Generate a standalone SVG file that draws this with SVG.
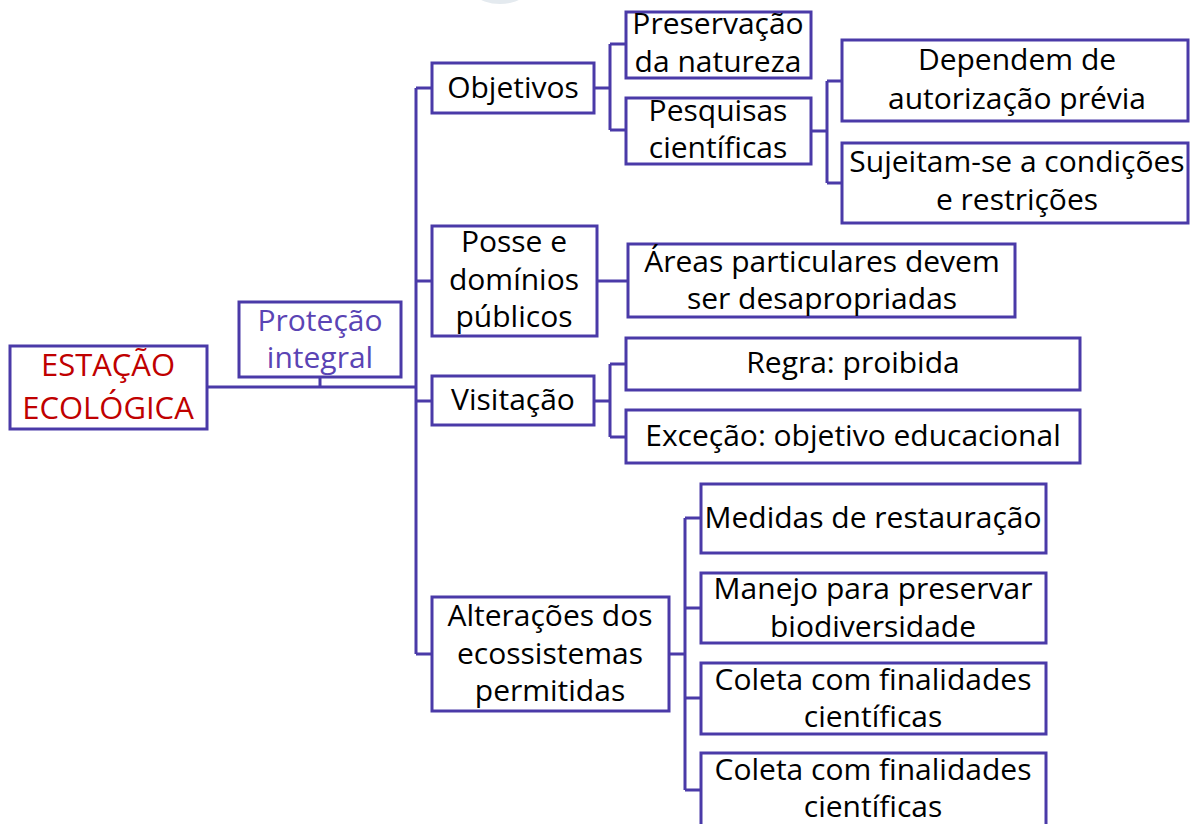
<svg xmlns="http://www.w3.org/2000/svg" width="1190" height="824" viewBox="0 0 1190 824">
<style>
.box{fill:#fff;stroke:#4a3aa8;stroke-width:3}
.ln{fill:none;stroke:#4a3aa8;stroke-width:3}
text{font-family:"Open Sans","Noto Sans",sans-serif;font-size:30px;fill:#000;text-anchor:middle}
.red{fill:#c00000;font-size:31px}
.pur{fill:#5a44b4}
</style>
<rect width="1190" height="824" fill="#fff"/>
<ellipse cx="500" cy="-30" rx="40" ry="34" fill="#e4eaef"/>
<g id="connectors">
<path class="ln" d="M207 387H416M320 377V387M416 88V654M416 88H432M416 281H432M416 401H432M416 654H432"/>
<path class="ln" d="M594 88H610M610 44V130M610 44H626M610 130H626"/>
<path class="ln" d="M811 131H827M827 81V183M827 81H842M827 183H842"/>
<path class="ln" d="M597 281H628"/>
<path class="ln" d="M594 401H610M610 364V437M610 364H626M610 437H626"/>
<path class="ln" d="M669 654H685M685 518V790M685 518H701M685 608H701M685 698H701M685 790H701"/>
</g>
<g id="estacao"><rect class="box" x="10" y="346" width="197" height="83"/><text class="red" x="108" y="376">ESTAÇÃO</text><text class="red" x="108" y="419">ECOLÓGICA</text></g>
<g id="protecao"><rect class="box" x="239" y="302" width="162" height="75"/><text class="pur" x="320" y="331">Proteção</text><text class="pur" x="320" y="368">integral</text></g>
<g id="objetivos"><rect class="box" x="432" y="63" width="162" height="50"/><text x="513" y="98">Objetivos</text></g>
<g id="preservacao"><rect class="box" x="626" y="12" width="185" height="66"/><text x="718" y="34">Preservação</text><text x="718" y="72">da natureza</text></g>
<g id="pesquisas"><rect class="box" x="626" y="98" width="185" height="66"/><text x="718" y="121">Pesquisas</text><text x="718" y="158">científicas</text></g>
<g id="dependem"><rect class="box" x="842" y="40" width="346" height="81"/><text x="1017" y="70">Dependem de</text><text x="1017" y="109">autorização prévia</text></g>
<g id="sujeitam"><rect class="box" x="842" y="143" width="346" height="80"/><text x="1017" y="172">Sujeitam-se a condições</text><text x="1017" y="210">e restrições</text></g>
<g id="posse"><rect class="box" x="432" y="226" width="165" height="110"/><text x="514" y="252">Posse e</text><text x="514" y="290">domínios</text><text x="514" y="327">públicos</text></g>
<g id="areas"><rect class="box" x="628" y="244" width="387" height="73"/><text x="822" y="272">Áreas particulares devem</text><text x="822" y="309">ser desapropriadas</text></g>
<g id="visitacao"><rect class="box" x="432" y="376" width="162" height="49"/><text x="513" y="410">Visitação</text></g>
<g id="regra"><rect class="box" x="626" y="338" width="454" height="52"/><text x="853" y="373">Regra: proibida</text></g>
<g id="excecao"><rect class="box" x="626" y="410" width="454" height="53"/><text x="853" y="446">Exceção: objetivo educacional</text></g>
<g id="alteracoes"><rect class="box" x="432" y="597" width="237" height="114"/><text x="550" y="626">Alterações dos</text><text x="550" y="664">ecossistemas</text><text x="550" y="701">permitidas</text></g>
<g id="medidas"><rect class="box" x="701" y="484" width="345" height="69"/><text x="873" y="528">Medidas de restauração</text></g>
<g id="manejo"><rect class="box" x="701" y="573" width="345" height="70"/><text x="873" y="599">Manejo para preservar</text><text x="873" y="637">biodiversidade</text></g>
<g id="coleta1"><rect class="box" x="701" y="663" width="345" height="71"/><text x="873" y="690">Coleta com finalidades</text><text x="873" y="727">científicas</text></g>
<g id="coleta2"><rect class="box" x="701" y="753" width="345" height="80"/><text x="873" y="780">Coleta com finalidades</text><text x="873" y="817">científicas</text></g>
</svg>
